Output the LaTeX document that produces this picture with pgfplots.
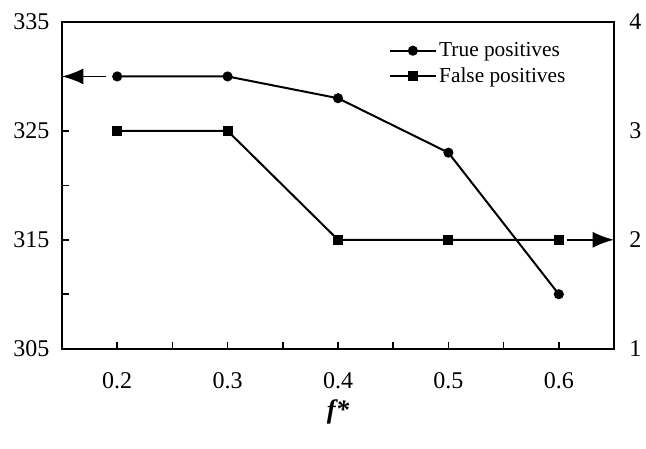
\documentclass[border=0pt]{standalone}
\usepackage{fontspec}
\setmainfont{Liberation Serif}
\usepackage{pgfplots}
\pgfplotsset{compat=1.18}
\usetikzlibrary{arrows.meta, calc}

\begin{document}
\begin{tikzpicture}
\pgfplotsset{
  every axis/.append style={
    width=414pt, height=245pt, scale only axis,
    xmin=0.15, xmax=0.65,
    tick align=inside,
    axis line style={line width=1.3pt},
    /pgf/number format/assume math mode=true,
    tick label style={font=\fontsize{18}{20}\selectfont},
  },
}
\begin{axis}[
  name=ax,
  ymin=305, ymax=335,
  xtick={0.2,0.3,0.4,0.5,0.6},
  minor xtick={0.25,0.35,0.45,0.55},
  ytick={305,315,325,335},
  minor ytick={310,320,330},
  xtick pos=bottom, ytick pos=left,
  major tick length=5pt, minor tick length=5pt,
  every tick/.style={line width=1.2pt, black},
  xticklabel style={yshift=-14pt},
  yticklabel style={xshift=-6pt},
  xlabel={\bfseries\itshape f*},
  xlabel style={font=\fontsize{20}{22}\selectfont, yshift=-2pt},
]
\addplot[black, line width=1.5pt, mark=*, mark size=3pt]
  coordinates {(0.2,330)(0.3,330)(0.4,328)(0.5,323)(0.6,310)};
\draw[-{Latex[length=16pt,width=12pt]}, line width=1.3pt]
  (axis cs:0.19,330) -- (axis cs:0.15,330);
\end{axis}
\begin{axis}[
  ymin=1, ymax=4,
  ytick={1,2,3,4},
  axis y line*=right, axis x line=none,
  major tick length=0pt,
  yticklabel style={xshift=8pt},
  legend cell align=left,
  legend style={draw=none, fill=none, at={(0.585,0.954)}, anchor=north west,
    font=\fontsize{16}{18}\selectfont, row sep=3pt},
  legend image code/.code={
    \draw[line width=1.5pt, mark repeat=2, mark phase=2]
      plot coordinates {(0pt,0pt)(17pt,0pt)(34pt,0pt)};
  },
]
\addlegendimage{black, line width=1.5pt, mark=*, mark size=3pt}
\addlegendentry{True positives}
\addplot[black, line width=1.5pt, mark=square*, mark size=3pt]
  coordinates {(0.2,3)(0.3,3)(0.4,2)(0.5,2)(0.6,2)};
\addlegendentry{False positives}
\draw[-{Latex[length=16pt,width=12pt]}, line width=1.3pt]
  (axis cs:0.607,2) -- (axis cs:0.65,2);
\end{axis}
\pgfresetboundingbox
\path ($(ax.south west)+(-46.5pt,-75pt)$) rectangle ($(ax.north east)+(24pt,16.5pt)$);
\end{tikzpicture}
\end{document}
